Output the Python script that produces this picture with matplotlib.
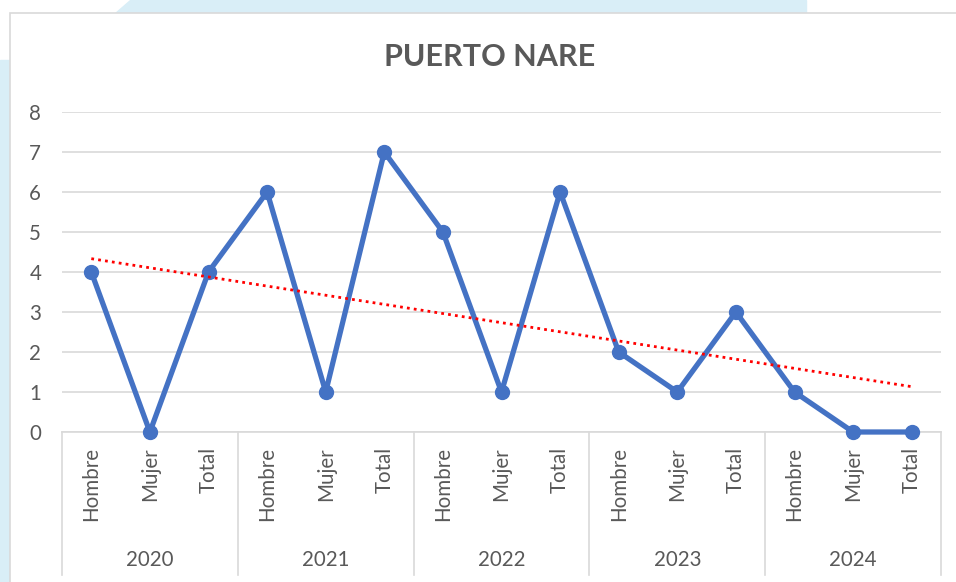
import numpy as np
import matplotlib
matplotlib.use('Agg')
import matplotlib.pyplot as plt
from matplotlib.patches import Polygon, Rectangle

years = ['2020', '2021', '2022', '2023', '2024']
groups = ['Hombre', 'Mujer', 'Total']
values = [4, 0, 4, 6, 1, 7, 5, 1, 6, 2, 1, 3, 1, 0, 0]

plt.rcParams['font.family'] = ['Lato', 'DejaVu Sans']
W, H = 956, 582
fig = plt.figure(figsize=(W / 100, H / 100), dpi=100)
fig.patch.set_facecolor('white')

# background decoration (light cyan strips) and chart border
cyan = '#d9eef7'
fig.patches.append(Polygon([(0, 1 - 60 / H), (10 / W, 1 - 60 / H), (10 / W, 0), (0, 0)],
                           closed=True, transform=fig.transFigure, color=cyan, zorder=-3))
fig.patches.append(Polygon([(130 / W, 1), (806 / W, 1), (806 / W, 1 - 13 / H), (115 / W, 1 - 13 / H)],
                           closed=True, transform=fig.transFigure, color=cyan, zorder=-3))
fig.patches.append(Rectangle((10 / W, -0.01), 1, 1 - 13 / H + 0.01, transform=fig.transFigure,
                             facecolor='white', edgecolor='#d9d9d9', lw=1.2, zorder=-2))

x0, x1, ytop, ybot = 62, 941, 112, 432
ax = fig.add_axes([x0 / W, 1 - ybot / H, (x1 - x0) / W, (ybot - ytop) / H])
ax.set_facecolor('none')

x = np.arange(1, len(values) + 1)
ax.plot(x, values, color='#4472C4', lw=3.8, marker='o', markersize=10, zorder=3,
        solid_joinstyle='round', clip_on=False)

# linear trend line
m, b = np.polyfit(x, values, 1)
ax.plot([x[0], x[-1]], [m * x[0] + b, m * x[-1] + b], color='#ff0000', lw=2,
        linestyle=(0, (1, 1.5)), zorder=4)

ax.set_xlim(0.5, len(values) + 0.5)
ax.set_ylim(0, 8)
ax.set_yticks(range(0, 9))
ax.grid(axis='y', color='#d9d9d9', lw=1.2)
ax.set_axisbelow(True)
for s in ['top', 'right', 'left']:
    ax.spines[s].set_visible(False)
ax.spines['bottom'].set_color('#d9d9d9')
ax.spines['bottom'].set_linewidth(1.2)

ax.set_xticks(x)
ax.set_xticklabels(groups * len(years), rotation=90)
ax.tick_params(axis='x', length=0, pad=11, labelsize=14.8, labelcolor='#595959')
ax.tick_params(axis='y', length=0, pad=15, labelsize=14.8, labelcolor='#595959')

# group separators and year labels
low = -(575 - ybot) / (ybot - ytop)
for i in range(len(years) + 1):
    ax.plot([0.5 + 3 * i] * 2, [0, low], color='#d9d9d9', lw=1.2,
            transform=ax.get_xaxis_transform(), clip_on=False)
for i, yr in enumerate(years):
    ax.text(2 + 3 * i, -(560 - ybot) / (ybot - ytop), yr, transform=ax.get_xaxis_transform(),
            ha='center', va='center', fontsize=14.8, color='#595959')

fig.text(490 / W, 1 - 57 / H, 'PUERTO NARE', ha='center', va='center',
         fontsize=22, fontweight='bold', color='#595959')

fig.savefig('out.png', dpi=100)
